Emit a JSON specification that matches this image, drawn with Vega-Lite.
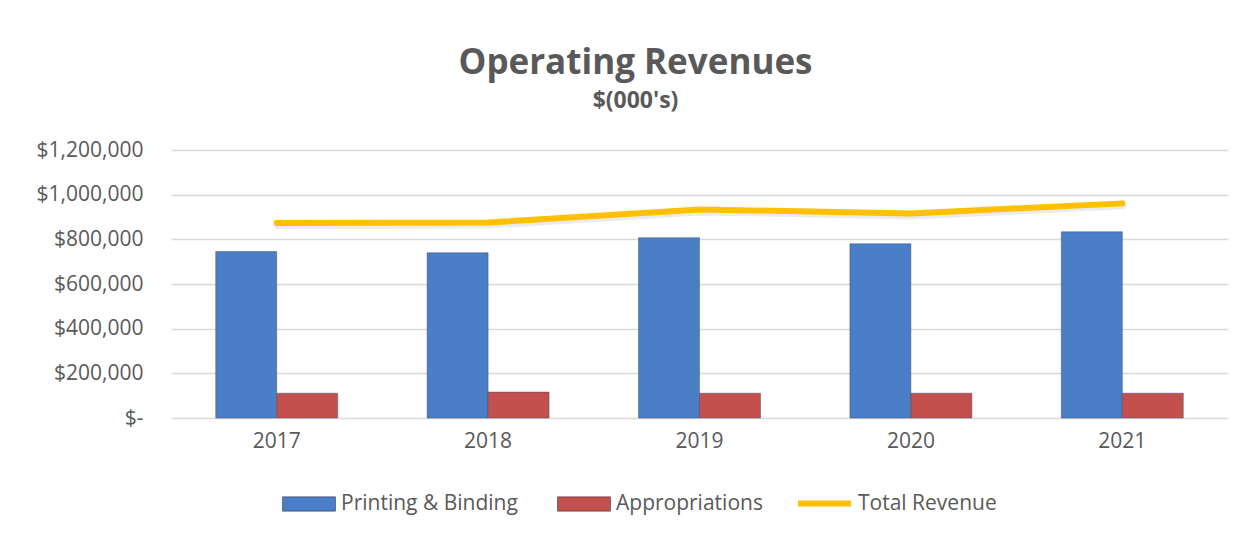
{
  "$schema": "https://vega.github.io/schema/vega-lite/v6.json",
  "width": 1057,
  "height": 268,
  "autosize": "none",
  "padding": {"left": 171, "top": 150, "right": 20, "bottom": 116},
  "background": "white",
  "config": {"view": {"stroke": null}},
  "title": {
    "text": "Operating Revenues",
    "subtitle": "$(000's)",
    "anchor": "middle",
    "frame": "group",
    "dx": -64,
    "offset": 26,
    "font": "Open Sans",
    "fontSize": 35,
    "fontWeight": "bold",
    "color": "#595959",
    "subtitleFont": "Open Sans",
    "subtitleFontSize": 23,
    "subtitleFontWeight": "bold",
    "subtitleColor": "#595959",
    "subtitlePadding": 9
  },
  "data": {
    "values": [
      {"year": "2017", "series": "Printing & Binding", "value": 745000},
      {"year": "2017", "series": "Appropriations", "value": 111000},
      {"year": "2017", "series": "Total Revenue", "value": 873000},
      {"year": "2018", "series": "Printing & Binding", "value": 740000},
      {"year": "2018", "series": "Appropriations", "value": 116000},
      {"year": "2018", "series": "Total Revenue", "value": 875000},
      {"year": "2019", "series": "Printing & Binding", "value": 807000},
      {"year": "2019", "series": "Appropriations", "value": 111000},
      {"year": "2019", "series": "Total Revenue", "value": 934000},
      {"year": "2020", "series": "Printing & Binding", "value": 780000},
      {"year": "2020", "series": "Appropriations", "value": 111000},
      {"year": "2020", "series": "Total Revenue", "value": 916000},
      {"year": "2021", "series": "Printing & Binding", "value": 834000},
      {"year": "2021", "series": "Appropriations", "value": 111000},
      {"year": "2021", "series": "Total Revenue", "value": 961000}
    ]
  },
  "encoding": {
    "x": {
      "field": "year",
      "type": "nominal",
      "scale": {"paddingInner": 0.423, "paddingOuter": 0.2115},
      "axis": {
        "title": null,
        "labelAngle": 0,
        "labelFont": "Open Sans",
        "labelFontSize": 21,
        "labelColor": "#595959",
        "labelPadding": 12,
        "domain": false,
        "ticks": false
      }
    },
    "y": {
      "field": "value",
      "type": "quantitative",
      "scale": {"domain": [0, 1200000], "nice": false},
      "axis": {
        "title": null,
        "values": [0, 200000, 400000, 600000, 800000, 1000000, 1200000],
        "labelExpr": "datum.value === 0 ? '$-\u00a0\u00a0' : '$' + format(datum.value, ',')",
        "labelFont": "Open Sans",
        "labelFontSize": 21,
        "labelColor": "#595959",
        "labelPadding": 28,
        "domain": false,
        "ticks": false,
        "gridColor": "#D9D9D9",
        "gridWidth": 1.5
      }
    }
  },
  "layer": [
    {
      "transform": [{"filter": "datum.series !== 'Total Revenue'"}],
      "mark": {"type": "bar", "stroke": "#3a4a6a", "strokeOpacity": 0.45, "strokeWidth": 1},
      "encoding": {
        "xOffset": {
          "field": "series",
          "type": "nominal",
          "sort": ["Printing & Binding", "Appropriations"],
          "scale": {"paddingInner": 0, "paddingOuter": 0}
        },
        "fill": {
          "field": "series",
          "type": "nominal",
          "scale": {
            "domain": ["Printing & Binding", "Appropriations"],
            "range": ["#4A7EC6", "#C4504D"]
          },
          "legend": {
            "title": null,
            "orient": "none",
            "legendX": 111,
            "legendY": 327,
            "direction": "horizontal",
            "padding": 0,
            "labelFont": "Open Sans",
            "labelFontSize": 21,
            "labelColor": "#595959",
            "labelLimit": 400,
            "labelOffset": 5,
            "columnPadding": 37,
            "symbolSize": 2809,
            "symbolType": "M-1,-0.27L1,-0.27L1,0.27L-1,0.27Z",
            "symbolStrokeColor": "rgba(40,40,60,0.5)",
            "symbolStrokeWidth": 1,
            "symbolOpacity": 1
          }
        }
      }
    },
    {
      "transform": [{"filter": "datum.series === 'Total Revenue'"}],
      "mark": {"type": "line", "color": "#000000", "strokeWidth": 6, "opacity": 0.08, "strokeCap": "round", "xOffset": 1, "yOffset": 3},
      "encoding": {}
    },
    {
      "transform": [{"filter": "datum.series === 'Total Revenue'"}],
      "mark": {"type": "line", "strokeWidth": 6, "strokeCap": "round", "strokeJoin": "round"},
      "encoding": {
        "stroke": {
          "field": "series",
          "type": "nominal",
          "scale": {"domain": ["Total Revenue"], "range": ["#FFC000"]},
          "legend": {
            "title": null,
            "orient": "none",
            "legendX": 624,
            "legendY": 324,
            "direction": "horizontal",
            "padding": 0,
            "labelFont": "Open Sans",
            "labelFontSize": 21,
            "labelColor": "#595959",
            "labelLimit": 400,
            "labelOffset": 4,
            "symbolSize": 2809,
            "symbolType": "stroke",
            "symbolStrokeWidth": 6,
            "symbolOpacity": 1
          }
        }
      }
    }
  ]
}
